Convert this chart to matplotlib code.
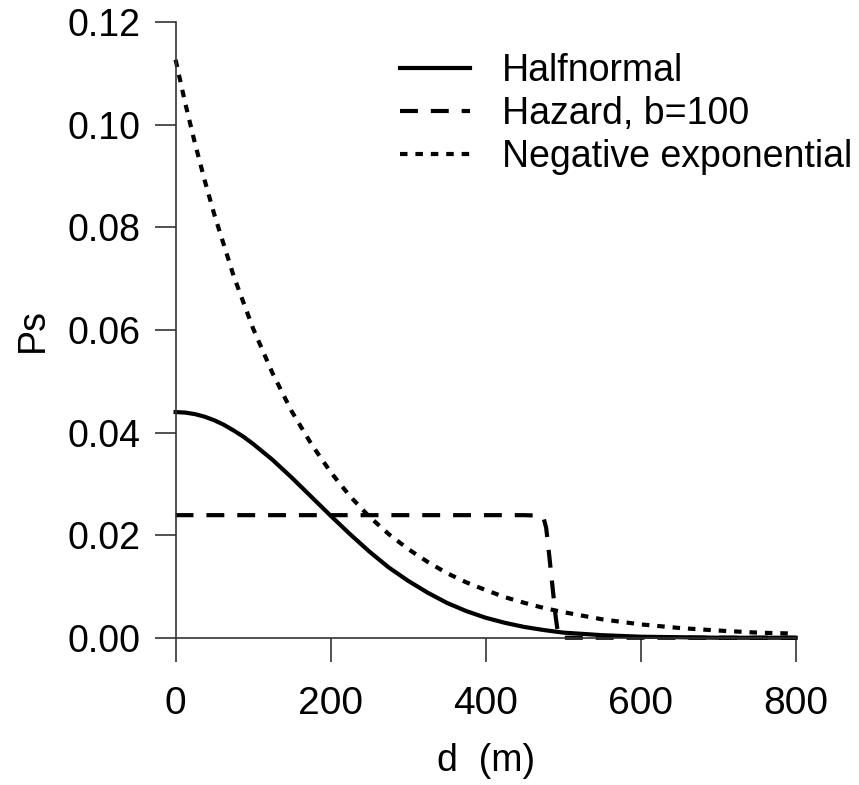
import matplotlib
matplotlib.use("Agg")
import matplotlib.pyplot as plt

plt.rcParams['font.family'] = ['Liberation Sans', 'DejaVu Sans']

# distances (m) and probabilities
hn_d = [0, 12.5, 25, 37.5, 50, 62.5, 75, 87.5, 100, 125, 150, 175, 200, 225, 250,
        275, 300, 325, 350, 375, 400, 425, 450, 475, 500, 550, 600, 650, 700,
        750, 800]
hn_p = [0.0440, 0.0439, 0.0436, 0.0431, 0.0424, 0.0415, 0.0404, 0.0392, 0.0378,
        0.0347, 0.0312, 0.0275, 0.0238, 0.0202, 0.0168, 0.0137, 0.0111, 0.0088,
        0.0068, 0.0052, 0.0039, 0.0029, 0.0021, 0.0015, 0.0010, 0.0005, 0.0002,
        0.0001, 0.0000, 0.0000, 0.0000]

hz_d = [0, 450, 470, 475, 478, 480, 485, 490, 493, 497, 500, 800]
hz_p = [0.0239, 0.0239, 0.0238, 0.0232, 0.0215, 0.0190, 0.0118, 0.0045, 0.0012,
        0.0002, 0.0, 0.0]

ne_d = [0, 12.5, 25, 37.5, 50, 75, 100, 125, 150, 175, 200, 225, 250, 275, 300,
        325, 350, 375, 400, 425, 450, 475, 500, 550, 600, 650, 700, 750, 800]
ne_p = [0.1127, 0.1042, 0.0964, 0.0892, 0.0825, 0.0705, 0.0603, 0.0516, 0.0441,
        0.0378, 0.0323, 0.0276, 0.0236, 0.0202, 0.0173, 0.0148, 0.0126, 0.0108,
        0.0093, 0.0079, 0.0068, 0.0058, 0.0050, 0.0036, 0.0026, 0.0019, 0.0014,
        0.0010, 0.0008]

labels = ["Halfnormal", "Hazard, b=100", "Negative exponential"]
xticks = [0, 200, 400, 600, 800]
yticks = [0.00, 0.02, 0.04, 0.06, 0.08, 0.10, 0.12]

fs = 27
lw = 3

fig = plt.figure(figsize=(8.59, 7.85), dpi=100)
ax = fig.add_axes([0.2044, 0.1876, 0.7219, 0.7840])

ax.plot(hn_d, hn_p, color='black', lw=lw, ls='-', clip_on=False, label=labels[0])
ax.plot(hz_d, hz_p, color='black', lw=lw, dashes=(4.3, 3.1), clip_on=False,
        label=labels[1])
ax.plot(ne_d, ne_p, color='black', lw=lw, dashes=(1.8, 1.9), clip_on=False,
        label=labels[2])

ax.set_xlim(0, 800)
ax.set_ylim(0, 0.12)
ax.set_xticks(xticks)
ax.set_xticklabels([str(t) for t in xticks])
ax.set_yticks(yticks)
ax.set_yticklabels([f"{t:.2f}" for t in yticks])

for s in ['top', 'right']:
    ax.spines[s].set_visible(False)
for s in ['left', 'bottom']:
    ax.spines[s].set_linewidth(1.2)
    ax.spines[s].set_color('#333333')
ax.tick_params(axis='y', direction='out', length=15, width=1.2,
               color='#333333', labelsize=fs, pad=10)
ax.tick_params(axis='x', direction='out', length=17, width=1.2,
               color='#333333', labelsize=28, pad=18)

ax.set_xlabel("d  (m)", fontsize=fs, labelpad=15)
ax.set_ylabel("Ps", fontsize=fs, labelpad=12)

ax.legend(loc='upper left', bbox_to_anchor=(0.362, 0.950), frameon=False,
          fontsize=fs, handlelength=1.86, handletextpad=0.85, labelspacing=0.19,
          borderpad=0, borderaxespad=0)

fig.savefig("out.png", dpi=100)
